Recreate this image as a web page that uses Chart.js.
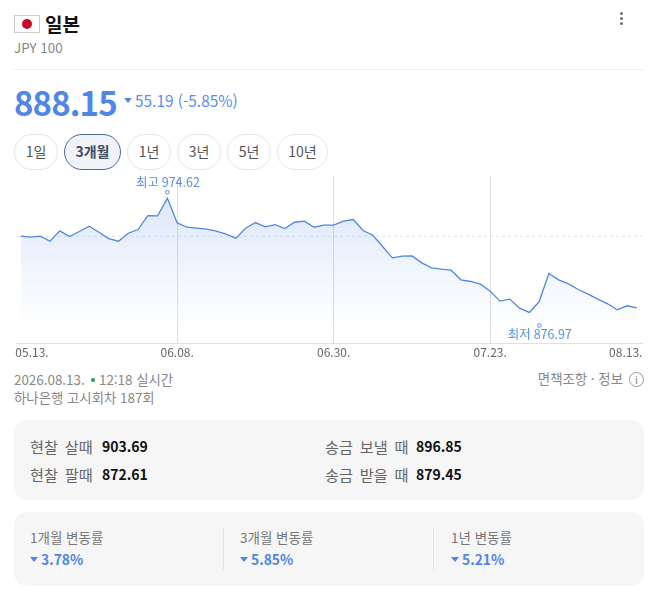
<!DOCTYPE html>
<html lang="ko">
<head>
<meta charset="utf-8">
<title>일본 JPY 100</title>
<script src="https://cdn.jsdelivr.net/npm/chart.js@4"></script>
<style>
  html, body { margin: 0; padding: 0; background: #fff; }
  body { width: 664px; height: 601px; position: relative; overflow: hidden; font-family: "Noto Sans CJK KR", "Noto Sans", sans-serif; color: #888; }
  .abs { position: absolute; white-space: nowrap; line-height: 20px; }
  .flag { position: absolute; left: 14px; top: 15px; width: 24px; height: 16px; border: 1px solid #ccc; background: #fff; }
  .flag i { position: absolute; left: 6.8px; top: 2.8px; width: 10.4px; height: 10.4px; border-radius: 50%; background: #c8082a; }
  .dots i { position: absolute; left: 620px; width: 3.4px; height: 3.4px; border-radius: 50%; background: #707070; }
  .rule { position: absolute; left: 14px; top: 69px; width: 630px; height: 1px; background: #eee; }
  .tri { position: absolute; width: 0; height: 0; border-left: 4px solid transparent; border-right: 4px solid transparent; border-top: 5px solid #4f86e8; }
  .pill { position: absolute; top: 134px; height: 34px; line-height: 33px; border: 1px solid #e6e6e6; border-radius: 18px; text-align: center; font-size: 14px; color: #555; box-sizing: content-box; }
  .pill.on { border-color: #4f6a9a; background: #f0f3f9; color: #3f4a63; font-weight: 700; }
  .panel { position: absolute; left: 14px; width: 630px; background: #f6f6f6; border-radius: 13px; }
  .lbl { font-size: 15.2px; color: #666; word-spacing: 2.5px; }
  .val { font-size: 14px; font-weight: 700; color: #111; }
  .sub { font-size: 13.5px; color: #777; }
  .pct { font-size: 13.8px; font-weight: 700; color: #4f86e8; }
  .meta { font-size: 13.4px; color: #888; }
  .vr { position: absolute; top: 528px; width: 1px; height: 42px; background: #e4e4e4; }
  #chartWrap { position: absolute; left: 0; top: 170px; width: 664px; height: 190px; }
</style>
</head>
<body>
<div class="flag"><i></i></div>
<div class="abs" style="left:45px;top:12px;font-size:19px;line-height:24px;font-weight:700;color:#111">일본</div>
<div class="abs" style="left:14px;top:37px;font-size:13.4px;color:#888">JPY 100</div>
<div class="dots"><i style="top:12px"></i><i style="top:17px"></i><i style="top:22px"></i></div>
<div class="rule"></div>

<div class="abs" style="left:14px;top:80px;font-size:33px;line-height:44px;font-weight:700;color:#4f86e8;letter-spacing:-0.9px">888.15</div>
<div class="tri" style="left:124px;top:98px"></div>
<div class="abs" style="left:135px;top:90px;font-size:15.4px;color:#5a8ee8">55.19 (-5.85%)</div>

<div id="pills"></div>

<div id="chartWrap"><canvas id="chart" width="664" height="190"></canvas></div>

<div class="abs meta" style="left:14px;top:369px">2026.08.13.</div>
<div style="position:absolute;left:90.5px;top:378px;width:4.4px;height:4.4px;border-radius:50%;background:#0fa958"></div>
<div class="abs meta" style="left:99px;top:369px">12:18 실시간</div>
<div class="abs meta" style="left:14px;top:387px">하나은행 고시회차 187회</div>
<div class="abs meta" style="right:41px;top:368px">면책조항 · 정보</div>
<div style="position:absolute;left:629px;top:372px;width:13px;height:13px;border:1px solid #999;border-radius:50%;font-size:11px;line-height:13px;text-align:center;color:#888">i</div>

<div class="panel" style="top:420px;height:80px"></div>
<div class="abs lbl" style="left:30px;top:436px">현찰 살때</div>
<div class="abs val" style="left:102px;top:436px">903.69</div>
<div class="abs lbl" style="left:30px;top:464px">현찰 팔때</div>
<div class="abs val" style="left:102px;top:464px">872.61</div>
<div class="abs lbl" style="left:325px;top:436px">송금 보낼 때</div>
<div class="abs val" style="left:416px;top:436px">896.85</div>
<div class="abs lbl" style="left:325px;top:464px">송금 받을 때</div>
<div class="abs val" style="left:416px;top:464px">879.45</div>

<div class="panel" style="top:512px;height:74px"></div>
<div class="abs sub" style="left:30px;top:527px">1개월 변동률</div>
<div class="tri" style="left:30px;top:557px"></div>
<div class="abs pct" style="left:41px;top:549px">3.78%</div>
<div class="vr" style="left:223px"></div>
<div class="abs sub" style="left:240px;top:527px">3개월 변동률</div>
<div class="tri" style="left:240px;top:557px"></div>
<div class="abs pct" style="left:251px;top:549px">5.85%</div>
<div class="vr" style="left:433px"></div>
<div class="abs sub" style="left:451px;top:527px">1년 변동률</div>
<div class="tri" style="left:451px;top:557px"></div>
<div class="abs pct" style="left:462px;top:549px">5.21%</div>

<script>
// 환율 데이터
const rates = [
  942.16, 941.31, 942.16, 937.89, 946.72, 941.88, 946.15, 950.71,
  945.58, 940.17, 937.89, 944.73, 947.86, 959.82, 959.53, 974.62,
  953.55, 949.85, 949.00, 948.14, 946.43, 943.87, 940.46, 949.00,
  953.84, 950.14, 952.13, 948.71, 954.12, 954.98, 949.85, 951.56,
  951.56, 954.98, 956.40, 947.00, 943.02, 933.34, 923.66, 925.08,
  925.37, 919.39, 915.12, 913.98, 913.12, 904.87, 903.44, 901.17,
  895.19, 886.65, 888.36, 880.67, 876.97, 886.08, 910.28, 904.87,
  901.45, 896.62, 892.63, 888.36, 884.37, 879.25, 882.66, 880.95
];
const tickLabels = ["05.13.", "06.08.", "06.30.", "07.23.", "08.13."];
const tickIndexes = [0, 16, 32, 48, 63];
const periods = ["1일", "3개월", "1년", "3년", "5년", "10년"];
const activePeriod = "3개월";

// 기간 버튼
const pillBoxes = [[14, 42], [64, 55], [127, 42], [177, 42], [227, 42], [277, 49]];
document.getElementById("pills").innerHTML = periods.map((p, i) =>
  `<div class="pill${p === activePeriod ? " on" : ""}" style="left:${pillBoxes[i][0]}px;width:${pillBoxes[i][1]}px">${p}</div>`
).join("");

const LINE_BLUE = "#4f86e8";
const xMin = -0.48, xMax = 63.52;

// 최고 / 최저 표시
const extremesPlugin = {
  id: "extremes",
  afterDatasetsDraw(chart) {
    const { ctx, scales } = chart;
    const hi = rates.indexOf(Math.max(...rates));
    const lo = rates.indexOf(Math.min(...rates));
    const marks = [
      { i: hi, text: "최고 " + rates[hi].toFixed(2), shift: 0, dot: -6, label: -16.5 },
      { i: lo, text: "최저 " + rates[lo].toFixed(2), shift: 10, dot: 13, label: 21.5 }
    ];
    ctx.save();
    marks.forEach((m) => {
      const x = scales.x.getPixelForValue(m.i) + m.shift;
      const y = scales.y.getPixelForValue(rates[m.i]);
      ctx.beginPath();
      ctx.arc(x, y + m.dot, 1.8, 0, Math.PI * 2);
      ctx.fillStyle = "#fff";
      ctx.fill();
      ctx.lineWidth = 1;
      ctx.strokeStyle = LINE_BLUE;
      ctx.stroke();
      ctx.font = '12.5px "Noto Sans CJK KR", "Noto Sans", sans-serif';
      ctx.fillStyle = "#5a8ee8";
      ctx.textAlign = "center";
      ctx.textBaseline = "middle";
      ctx.fillText(m.text, x + 0.5, y + m.label);
    });
    ctx.restore();
  }
};

new Chart(document.getElementById("chart"), {
  type: "line",
  data: {
    datasets: [
      {
        data: rates.map((v, i) => ({ x: i, y: v })),
        borderColor: LINE_BLUE,
        borderWidth: 1.3,
        pointRadius: 0,
        tension: 0,
        fill: "start",
        backgroundColor(c) {
          const area = c.chart.chartArea;
          if (!area) return "transparent";
          const g = c.chart.ctx.createLinearGradient(0, area.top, 0, area.bottom);
          g.addColorStop(0, "rgba(79,134,232,0.22)");
          g.addColorStop(0.9, "rgba(79,134,232,0)");
          return g;
        }
      },
      {
        // 기준선 (시작값)
        data: [{ x: xMin, y: rates[0] }, { x: xMax, y: rates[0] }],
        borderColor: "#d6e0f2",
        borderWidth: 1,
        borderDash: [3, 3],
        pointRadius: 0,
        fill: false
      }
    ]
  },
  options: {
    responsive: false,
    animation: false,
    events: [],
    layout: { padding: { left: 16, right: 22, top: 6, bottom: 0 } },
    plugins: { legend: { display: false }, tooltip: { enabled: false } },
    scales: {
      x: {
        type: "linear",
        min: xMin,
        max: xMax,
        afterBuildTicks(scale) {
          // 양 끝 라벨은 안쪽으로 들여서 찍는다
          scale.ticks = tickIndexes.map((v, i) => ({
            value: i === 0 ? v + 1.16 : i === tickIndexes.length - 1 ? v - 1.14 : v
          }));
        },
        afterFit(scale) { scale.height = 17; },
        border: { display: true, color: "#dde0e6", width: 1 },
        grid: {
          drawTicks: false,
          color: (c) => (c.index === 0 || c.index === tickIndexes.length - 1 ? "transparent" : "#dedfe2")
        },
        ticks: {
          autoSkip: false,
          maxRotation: 0,
          padding: 2,
          color: "#666",
          font: { size: 12, family: '"Noto Sans CJK KR", "Noto Sans", sans-serif' },
          callback: (v, i) => tickLabels[i]
        }
      },
      y: { display: false, min: 850.85, max: 993.65 }
    }
  },
  plugins: [extremesPlugin]
});
</script>
</body>
</html>
